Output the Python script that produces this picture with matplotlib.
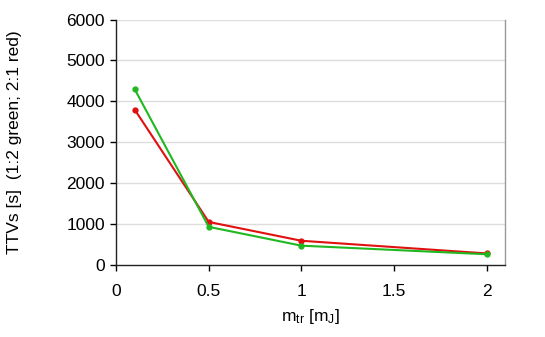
import matplotlib
matplotlib.use("Agg")
import matplotlib.pyplot as plt

plt.rcParams['font.family'] = ['Liberation Sans', 'DejaVu Sans']
plt.rcParams['mathtext.fontset'] = 'custom'
plt.rcParams['mathtext.rm'] = 'Liberation Sans'
plt.rcParams['mathtext.it'] = 'Liberation Sans'

x = [0.1, 0.5, 1.0, 2.0]
ttv_green = [4300, 930, 470, 260]
ttv_red = [3800, 1050, 590, 280]
xticks = [0, 0.5, 1, 1.5, 2]
xticklabels = ['0', '0.5', '1', '1.5', '2']
yticks = [0, 1000, 2000, 3000, 4000, 5000, 6000]

fig = plt.figure(figsize=(5.45, 3.37), dpi=100)
ax = fig.add_axes([0.213, 0.214, 0.714, 0.728])

for yt in yticks[1:]:
    ax.axhline(yt, color='#dddddd', lw=1.0, zorder=0)

ax.plot(x, ttv_red, color='#e01010', lw=1.5, marker='o', ms=3.5, zorder=3)
ax.plot(x, ttv_green, color='#20b820', lw=1.5, marker='o', ms=3.5, zorder=4)

ax.set_xlim(0, 2.1)
ax.set_ylim(0, 6000)
ax.set_xticks(xticks)
ax.set_xticklabels(xticklabels)
ax.set_yticks(yticks)
ax.tick_params(direction='out', length=4, width=1, labelsize=12.5)
ax.tick_params(axis='y', pad=4)
ax.tick_params(axis='x', pad=10)

for s in ['left', 'bottom']:
    ax.spines[s].set_color('#222222')
    ax.spines[s].set_linewidth(1.0)
ax.spines['top'].set_visible(False)
ax.spines['right'].set_color('#999999')
ax.spines['right'].set_linewidth(1.0)

ax.set_ylabel('TTVs [s]  (1:2 green; 2:1 red)', fontsize=12.5, va='center')
ax.yaxis.set_label_coords(-0.26, 0.5)
ax.set_xlabel(r'm$_{\rm tr}$ [m$_{\rm J}$]', fontsize=12.5, va='center')
ax.xaxis.set_label_coords(0.5, -0.212)

fig.savefig('out.png', dpi=100)
